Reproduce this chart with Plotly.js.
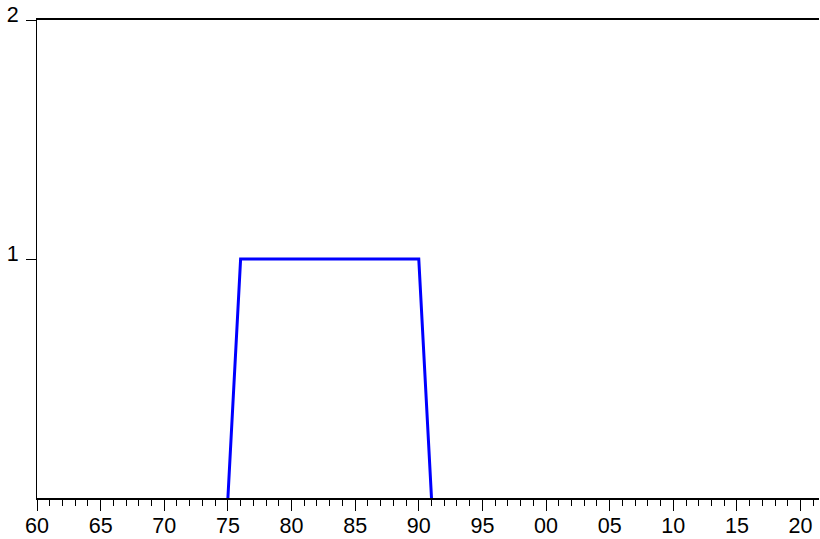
<!DOCTYPE html>
<html>
<head>
<meta charset="utf-8">
<script src="https://cdn.plot.ly/plotly-3.0.1.min.js"></script>
<style>html,body{margin:0;padding:0;background:#fff;}#chart{width:820px;height:539px;}</style>
</head>
<body>
<div id="chart"></div>
<script>
// Annual dummy series; only the visible segment (1975-1991) is drawn
const years = [1975,1976,1977,1978,1979,1980,1981,1982,1983,1984,1985,1986,1987,1988,1989,1990,1991];
const values = [0,1,1,1,1,1,1,1,1,1,1,1,1,1,1,1,0];

const tickYears = [1960,1965,1970,1975,1980,1985,1990,1995,2000,2005,2010,2015,2020];
const tickLabels = ["60","65","70","75","80","85","90","95","00","05","10","15","20"];
const yTicks = [1, 2];
const yTickLabels = ["1", "2"];

const trace = {
  x: years, y: values, type: 'scatter', mode: 'lines',
  line: {color: '#0000FF', width: 3},
  hoverinfo: 'skip'
};

const layout = {
  width: 820, height: 539,
  margin: {l: 37, r: 1, t: 20, b: 41},
  paper_bgcolor: '#fff', plot_bgcolor: '#fff',
  showlegend: false,
  font: {family: 'Arial, Liberation Sans, sans-serif', size: 21.5, color: '#000'},
  xaxis: {
    range: [1960, 2021.45],
    tickmode: 'array', tickvals: tickYears, ticktext: tickLabels,
    ticks: 'outside', ticklen: 11, tickwidth: 1, tickcolor: '#000',
    ticklabelstandoff: -4,
    minor: {dtick: 1, tick0: 1960, ticks: 'outside', ticklen: 6, tickwidth: 1, tickcolor: '#000', showgrid: false},
    showline: true, linecolor: '#000', linewidth: 2, mirror: true,
    showgrid: false, zeroline: false,
    tickfont: {family: 'Arial, Liberation Sans, sans-serif', size: 21.5, color: '#000'}, layer: 'above traces'
  },
  yaxis: {
    range: [0, 2],
    tickmode: 'array', tickvals: yTicks, ticktext: yTickLabels,
    ticks: 'outside', ticklen: 10, tickwidth: 1, tickcolor: '#000',
    ticklabelstandoff: 3, ticklabelshift: -6,
    showline: true, linecolor: '#000', linewidth: 1, mirror: false,
    showgrid: false, zeroline: false,
    tickfont: {family: 'Arial, Liberation Sans, sans-serif', size: 21.5, color: '#000'}, layer: 'above traces'
  }
};

Plotly.newPlot('chart', [trace], layout, {staticPlot: true, displayModeBar: false});
</script>
</body>
</html>
